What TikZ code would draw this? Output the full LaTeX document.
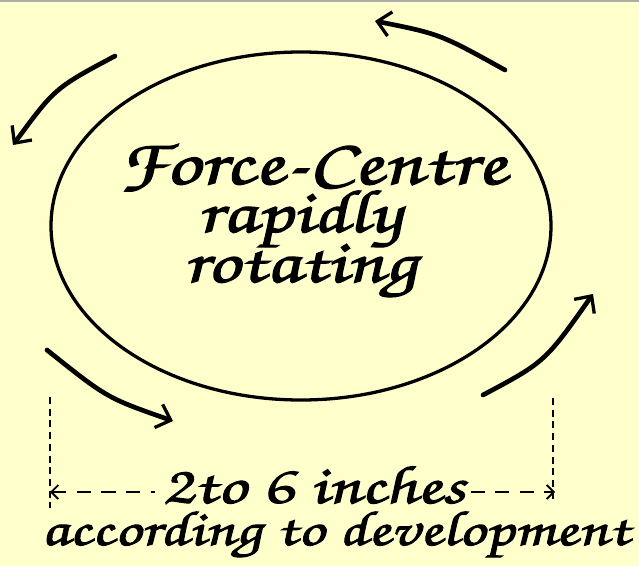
\documentclass[tikz,border=0pt]{standalone}
\usepackage{fontspec}
\usetikzlibrary{arrows.meta,positioning}
\newfontfamily\calli[FakeBold=2,FakeStretch=1.35,FakeSlant=-0.1]{texgyrechorus-mediumitalic.otf}
\definecolor{parchment}{RGB}{255,255,204}

\begin{document}
\begin{tikzpicture}[x=0.03cm,y=-0.03cm,
    spin/.style={line width=4pt,line cap=round,
      -{Straight Barb[length=11pt,width=21pt,line width=2.8pt]}},
    measure/.style={line width=2.4pt,dash pattern=on 6pt off 4pt},
    spanline/.style={line width=1.8pt,dash pattern=on 12pt off 9pt},
    tick/.tip={Straight Barb[length=6pt,width=12pt,line width=1.6pt]},
    script/.style={inner sep=0pt,anchor=base}]
  \fill[parchment] (0,0) rectangle (639,566);
  \useasboundingbox (0,0) rectangle (639,566);
  \fill[gray!65] (0,0) rectangle (639,2.5);
  % the force centre
  \draw[line width=2.8pt] (301,226) ellipse [x radius=250, y radius=174];
  \node[script,font=\calli\fontsize{55}{55}\selectfont] (title) at (313,184) {Force-Centre};
  \node[script,font=\calli\fontsize{52}{52}\selectfont] (rapid) at (300,232) {rapidly};
  \node[script,font=\calli\fontsize{52}{52}\selectfont] (rot) at (301,282) {rotating};
  % sense of rotation
  \draw[spin] (505,70) .. controls (440,34) .. (375,21);
  \draw[spin] (115,56) .. controls (55,88) .. (13,145);
  \draw[spin] (47,350) .. controls (107,398) .. (173,421);
  \draw[spin] (483,395) .. controls (545,362) .. (593,294);
  % size
  \draw[measure] (50,397) -- (50,508);
  \draw[measure] (553,398) -- (553,502);
  \coordinate (dimL) at (50,492);
  \coordinate (dimR) at (555,492);
  \node[script,font=\calli\fontsize{46}{46}\selectfont] (span) at (314,503) {2to 6 inches};
  \node[script,font=\calli\fontsize{42}{42}\selectfont] (note) at (336,545) {according to development};
  \draw[spanline,tick-] (dimL) -- ([xshift=-6pt]span.west |- dimL);
  \draw[spanline,-tick] ([xshift=4pt]span.east |- dimR) -- (dimR);
\end{tikzpicture}
\end{document}
